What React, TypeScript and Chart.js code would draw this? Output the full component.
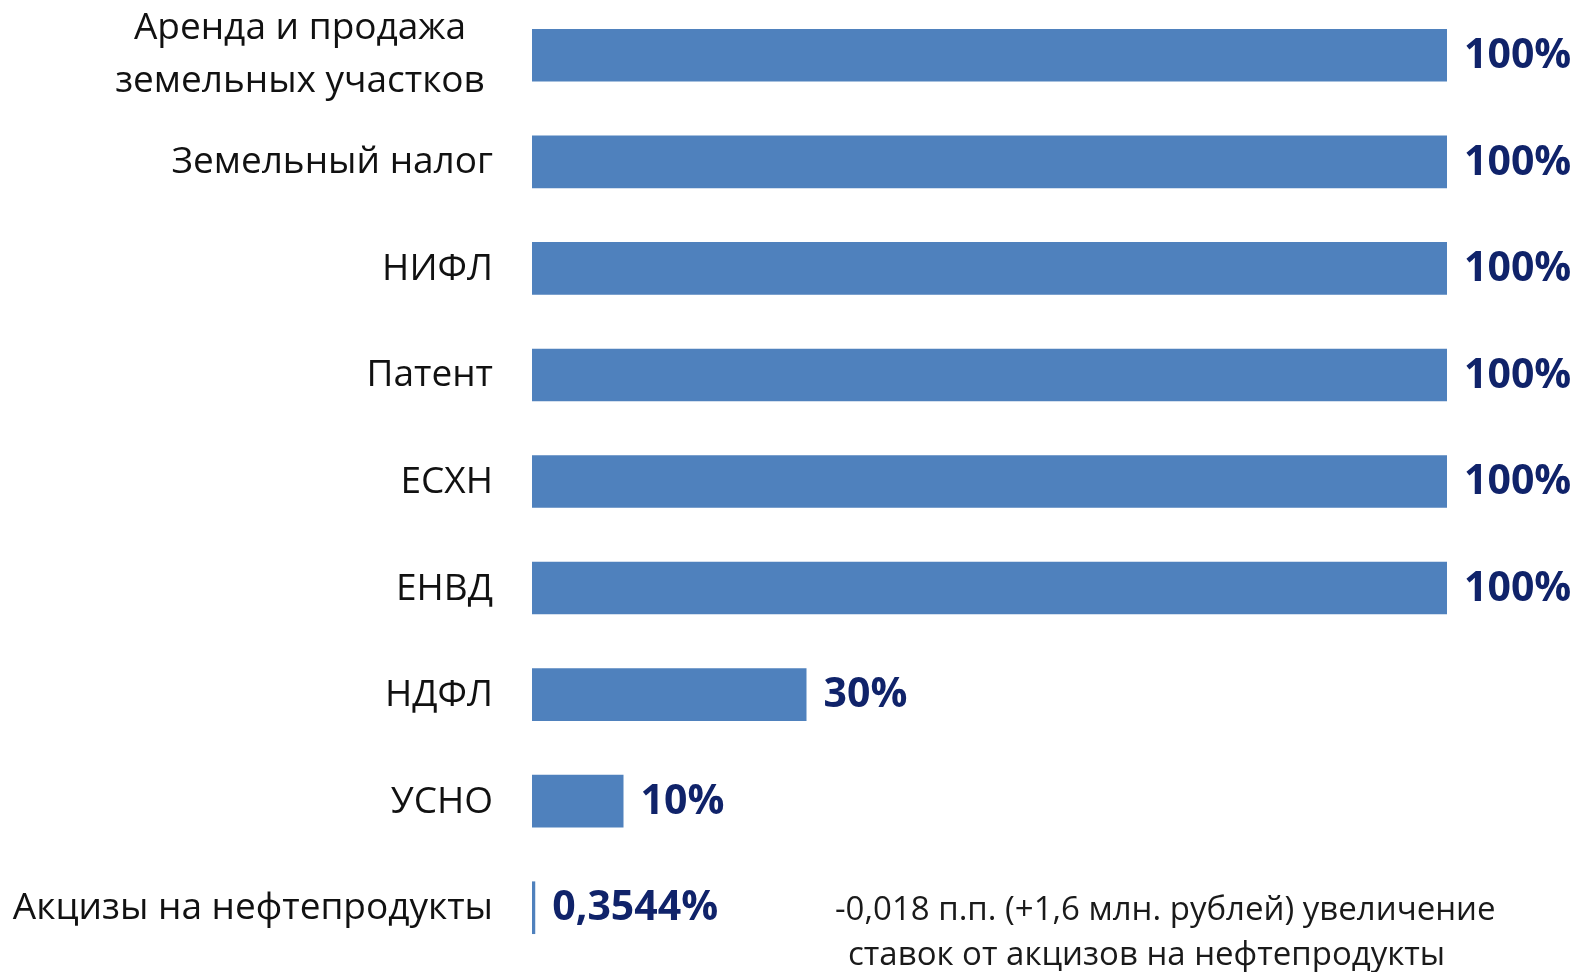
import React, { useEffect, useRef } from "react";
import { Chart, registerables } from "chart.js";

Chart.register(...registerables);

const categories: (string | string[])[] = [
  ["Аренда и продажа", "земельных участков"],
  "Земельный налог",
  "НИФЛ",
  "Патент",
  "ЕСХН",
  "ЕНВД",
  "НДФЛ",
  "УСНО",
  "Акцизы на нефтепродукты",
];
const values = [100, 100, 100, 100, 100, 100, 30, 10, 0.3544];
const noteLines = [
  "-0,018 п.п. (+1,6 млн. рублей) увеличение",
  "ставок от акцизов на нефтепродукты",
];

const BAR_COLOR = "#4F81BD";
const VALUE_COLOR = "#10236A";
const LABEL_FONT = "37px 'Open Sans', sans-serif";
const NOTE_FONT = "33px 'Open Sans', sans-serif";
const VALUE_FONT = "bold 41px 'Open Sans', sans-serif";

const fmt = (v: number) => String(v).replace(".", ",") + "%";

const labelsPlugin = {
  id: "customLabels",
  afterDatasetsDraw(chart: any) {
    const ctx = chart.ctx;
    const meta = chart.getDatasetMeta(0);
    const yScale = chart.scales.y;
    ctx.save();
    // value labels
    ctx.font = VALUE_FONT;
    ctx.fillStyle = VALUE_COLOR;
    ctx.textAlign = "left";
    ctx.textBaseline = "middle";
    meta.data.forEach((el: any, i: number) => {
      ctx.fillText(fmt(values[i]), el.x + 17, el.y + 1);
    });
    // category labels
    ctx.font = LABEL_FONT;
    ctx.fillStyle = "#111111";
    categories.forEach((c, i) => {
      const y = yScale.getPixelForValue(i);
      if (Array.isArray(c)) {
        ctx.textAlign = "center";
        ctx.fillText(c[0], 300, y - 27);
        ctx.fillText(c[1], 300, y + 26);
      } else {
        ctx.textAlign = "right";
        ctx.fillText(c, 493, y + 1);
      }
    });
    // note
    const last = yScale.getPixelForValue(categories.length - 1);
    ctx.font = NOTE_FONT;
    ctx.textAlign = "left";
    ctx.fillStyle = "#1a1a1a";
    ctx.fillText(noteLines[0], 835, last + 3);
    ctx.fillText(noteLines[1], 848, last + 48);
    ctx.restore();
  },
};

export default function App() {
  const ref = useRef<HTMLCanvasElement | null>(null);
  useEffect(() => {
    document.body.style.margin = "0";
    const canvas = ref.current!;
    const chart = new Chart(canvas, {
      type: "bar",
      data: {
        labels: categories.map((c) => (Array.isArray(c) ? c.join(" ") : c)),
        datasets: [
          {
            data: values,
            backgroundColor: BAR_COLOR,
            borderWidth: 0,
            categoryPercentage: 1,
            barPercentage: 0.494,
          },
        ],
      },
      options: {
        indexAxis: "y",
        animation: false,
        responsive: false,
        layout: { padding: { left: 532, right: 130, top: 2, bottom: 11 } },
        plugins: { legend: { display: false }, tooltip: { enabled: false } },
        scales: {
          x: { display: false, min: 0, max: 100 },
          y: { display: false },
        },
      },
      plugins: [labelsPlugin],
    });
    return () => chart.destroy();
  }, []);
  return (
    <div style={{ width: 1577, height: 972, background: "#ffffff" }}>
      <canvas ref={ref} width={1577} height={972} />
    </div>
  );
}
